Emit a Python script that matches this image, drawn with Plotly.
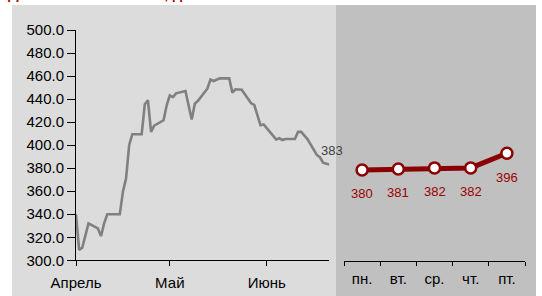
import plotly.graph_objects as go

W, H = 542, 296

# ---- data ----
dates = ["2011-04-01", "2011-04-02", "2011-04-03", "2011-04-05", "2011-04-08", "2011-04-09",
         "2011-04-10", "2011-04-11", "2011-04-15", "2011-04-16", "2011-04-17", "2011-04-18",
         "2011-04-19", "2011-04-22", "2011-04-23", "2011-04-24", "2011-04-25", "2011-04-26",
         "2011-04-29", "2011-04-30", "2011-05-01", "2011-05-02", "2011-05-03", "2011-05-06",
         "2011-05-08", "2011-05-09", "2011-05-10", "2011-05-13", "2011-05-14", "2011-05-15",
         "2011-05-17", "2011-05-20", "2011-05-21", "2011-05-22", "2011-05-24", "2011-05-27",
         "2011-05-28", "2011-05-30", "2011-05-31", "2011-06-04", "2011-06-05", "2011-06-06",
         "2011-06-07", "2011-06-10", "2011-06-11", "2011-06-12", "2011-06-14", "2011-06-17",
         "2011-06-18", "2011-06-19", "2011-06-21"]
prices = [340, 309, 311, 332, 327.7, 321,
          332, 340, 340, 359.5, 371, 400,
          409.5, 409.5, 435.5, 439, 411.5, 417,
          421.6, 434.6, 443.3, 441.8, 445, 447,
          422.2, 436, 438.5, 449, 457, 455.7,
          458, 458, 445.6, 448.5, 448.2, 436.3,
          435, 417.3, 418, 405, 406, 404.5,
          405.4, 405.4, 411.5, 411.5, 405.3, 391.5,
          389.5, 384.8, 383.2]
last_label = "383"

month_ticks = ["2011-04-01", "2011-05-01", "2011-06-01"]
month_labels = ["Апрель", "Май", "Июнь"]

days = ["пн.", "вт.", "ср.", "чт.", "пт."]
forecast = [380, 381, 382, 382, 396]

title_text = "Динамика стоимости, долл./т"

FONT = "Liberation Sans, Arial, sans-serif"
DARKRED = "#8B0000"


def px_x(p):
    return p / W


def px_y(p):
    return 1 - p / H


fig = go.Figure()

fig.add_trace(go.Scatter(
    x=dates, y=prices, mode="lines",
    line=dict(color="#808080", width=2.6),
    xaxis="x", yaxis="y", showlegend=False, hoverinfo="skip"))

fig.add_trace(go.Scatter(
    x=days, y=forecast, mode="lines+markers",
    line=dict(color=DARKRED, width=5),
    marker=dict(size=11, color="white", line=dict(color=DARKRED, width=2.5)),
    xaxis="x2", yaxis="y2", showlegend=False, hoverinfo="skip", cliponaxis=False))

annotations = [
    dict(x=dates[-1], y=prices[-1], xref="x", yref="y", text=last_label,
         showarrow=False, xshift=3, yshift=14,
         font=dict(family=FONT, size=13, color="#404040")),
    dict(x=px_x(6), y=px_y(3.8), xref="paper", yref="paper", text="<b>%s</b>" % title_text,
         showarrow=False, xanchor="left", yanchor="bottom",
         font=dict(family=FONT, size=15, color="#C00000")),
]
for d, v in zip(days, forecast):
    annotations.append(dict(x=d, y=v, xref="x2", yref="y2", text=str(v),
                            showarrow=False, yshift=-24,
                            font=dict(family=FONT, size=13, color="#990000")))

PANEL_TOP = 5
shapes = [
    dict(type="rect", xref="paper", yref="paper", x0=px_x(12), x1=px_x(336),
         y0=px_y(296), y1=px_y(PANEL_TOP), fillcolor="#DCDCDC", line=dict(width=0), layer="below"),
    dict(type="rect", xref="paper", yref="paper", x0=px_x(336), x1=px_x(536),
         y0=px_y(296), y1=px_y(PANEL_TOP), fillcolor="#C0C0C0", line=dict(width=0), layer="below"),
]

fig.update_layout(
    width=W, height=H,
    margin=dict(l=0, r=0, t=0, b=0, pad=0, autoexpand=False),
    paper_bgcolor="white", plot_bgcolor="rgba(0,0,0,0)",
    font=dict(family=FONT, size=15, color="black"),
    showlegend=False,
    shapes=shapes,
    annotations=annotations,
    xaxis=dict(domain=[px_x(76), px_x(329.3)], type="date",
               range=["2011-04-01", "2011-06-21"],
               tickmode="array", tickvals=month_ticks, ticktext=month_labels,
               ticks="outside", ticklen=5, tickcolor="black",
               showline=True, linecolor="black", linewidth=1,
               showgrid=False, zeroline=False, anchor="y", automargin=False,
               tickfont=dict(family=FONT, size=15, color="black"),
               ticklabelstandoff=4),
    yaxis=dict(domain=[px_y(260.3), px_y(30)], range=[300, 500],
               tick0=300, dtick=20, tickformat=".1f",
               ticks="outside", ticklen=8, tickcolor="black",
               showline=True, linecolor="black", linewidth=1,
               showgrid=False, zeroline=False, anchor="x", automargin=False,
               tickfont=dict(family=FONT, size=15, color="black")),
    xaxis2=dict(domain=[px_x(344), px_x(525)], type="category",
                range=[-0.5, 4.5], tickson="boundaries",
                ticks="outside", ticklen=4, tickcolor="black",
                showline=True, linecolor="black", linewidth=1,
                showgrid=False, zeroline=False, anchor="y2", automargin=False,
                tickfont=dict(family=FONT, size=15, color="black"),
                ticklabelstandoff=4),
    yaxis2=dict(domain=[px_y(261), px_y(30)], range=[292.8, 514.1],
                showticklabels=False, showline=False, showgrid=False,
                zeroline=False, ticks="", anchor="x2", automargin=False),
)

fig.write_html("out.html", config={"displayModeBar": False},
               post_script="document.body.style.margin='0';document.body.style.overflow='hidden';")
